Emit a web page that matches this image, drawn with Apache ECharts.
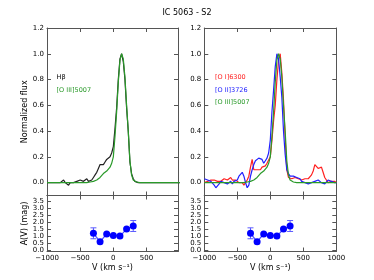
<!DOCTYPE html>
<html>
<head>
<meta charset="utf-8">
<script src="https://cdn.jsdelivr.net/npm/echarts@6/dist/echarts.min.js"></script>
<style>html,body{margin:0;padding:0;background:#fff;}#c{width:374px;height:280px;}</style>
</head>
<body>
<div id="c"></div>
<script>
// Velocity grid (km/s)
const V = [-1000,-975,-950,-925,-900,-875,-850,-825,-800,-775,-750,-725,-700,-675,-650,-625,-600,-575,-550,-525,
  -500,-475,-450,-425,-400,-375,-350,-325,-300,-275,-250,-225,-200,-175,-150,-125,-100,-75,-50,-25,
  0,25,50,75,100,125,150,175,200,225,250,275,300,325,350,375,400,425,450,475,
  500,525,550,575,600,625,650,675,700,725,750,775,800,825,850,875,900,925,950,975,1000];
// H beta (normalized)
const HB = [0.00,-0.01,0.00,0.01,0.00,-0.01,0.00,0.01,0.00,0.01,0.02,0.00,-0.01,-0.02,0.00,0.01,0.00,-0.01,0.01,0.00,
  0.02,0.03,0.01,0.01,0.03,0.01,0.01,0.02,0.04,0.06,0.08,0.11,0.14,0.15,0.14,0.16,0.18,0.17,0.20,0.23,
  0.28,0.42,0.58,0.80,0.96,1.00,0.94,0.80,0.58,0.40,0.16,0.07,0.03,0.01,0.00,0.00,-0.01,0.00,0.01,0.00,
  -0.01,0.00,0.01,0.00,-0.01,0.00,0.01,0.00,-0.01,0.00,0.01,0.00,0.01,0.00,-0.01,0.00,0.01,0.00,0.01,0.00,0.00];
// [O III]5007
const OIII = [0.00,0.00,0.00,0.00,0.00,0.00,0.00,0.00,0.00,0.00,0.00,0.00,0.00,0.00,0.00,0.00,0.00,0.00,0.00,0.00,
  0.00,0.00,0.00,0.00,0.00,0.005,0.005,0.01,0.01,0.015,0.02,0.03,0.04,0.055,0.07,0.085,0.09,0.10,0.12,0.15,
  0.20,0.36,0.55,0.78,0.95,1.00,0.96,0.82,0.60,0.40,0.17,0.06,0.02,0.01,0.005,0.00,0.00,0.00,0.00,0.00,
  0.00,0.00,0.00,0.00,0.00,0.00,0.00,0.00,0.00,0.00,0.00,0.00,0.00,0.00,0.00,0.00,0.00,0.00,0.00,0.00,0.00];
// [O II]3726
const OII = [0.03,0.03,0.02,0.02,0.01,0.00,-0.02,-0.04,-0.04,-0.01,0.01,0.01,0.00,0.01,-0.01,0.00,0.01,-0.01,0.01,0.00,
  0.02,0.05,0.04,0.08,0.05,0.00,-0.04,-0.02,0.05,0.10,0.14,0.17,0.16,0.19,0.20,0.18,0.15,0.17,0.19,0.23,
  0.33,0.55,0.72,0.90,1.00,0.96,0.82,0.66,0.40,0.22,0.10,0.07,0.05,0.06,0.05,0.04,0.04,0.05,0.03,0.01,
  0.00,0.00,-0.01,-0.01,-0.01,0.00,0.01,0.01,0.02,0.02,0.01,0.00,-0.01,-0.01,0.00,0.02,0.02,0.01,0.02,0.00,0.00];
// [O I]6300
const OI = [0.00,0.01,0.01,0.01,0.02,0.02,0.02,0.01,0.01,0.00,0.01,0.02,0.03,0.04,0.02,0.03,0.04,0.02,0.01,0.02,
  0.01,0.00,-0.01,0.00,-0.02,-0.01,0.02,0.05,0.12,0.18,0.10,0.09,0.10,0.11,0.10,0.12,0.13,0.13,0.15,0.16,
  0.20,0.33,0.48,0.60,0.80,0.95,1.00,0.85,0.64,0.35,0.10,0.04,0.03,0.03,0.04,0.04,0.04,0.03,0.02,0.02,
  0.02,0.03,0.03,0.03,0.04,0.06,0.09,0.14,0.15,0.11,0.10,0.12,0.08,0.04,0.02,0.00,0.00,0.01,0.02,0.01,0.00];
// Extinction A(V) per velocity bin
const AV_V = [-300,-200,-100,0,100,200,300];
const AV = [1.2,0.6,1.15,1.05,1.0,1.5,1.72];
const AV_ERR = [0.39,0,0,0,0,0,0.39];
// Tick values
const FLUX_TICKS = [0,0.2,0.4,0.6,0.8,1.0,1.2];
const AV_TICKS = [0,0.5,1.0,1.5,2.0,2.5,3.0,3.5];
const V_TICKS = [-1000,-500,0,500,1000];

const FRAME = '#555';
const FONT = 'DejaVu Sans';
const C_HB = '#222', C_OIII = '#2a9a2a', C_OII = '#2020ff', C_OI = '#ff2020';

const grids = [
  {left:47, top:28, width:131, height:167.5},
  {left:47, top:195.5, width:131, height:56},
  {left:204.3, top:28, width:132, height:167.5},
  {left:204.3, top:195.5, width:132, height:56}
];
const xMax = [975, 975, 1000, 1000];
const isBottom = [false, true, false, true];

const xAxis = [], yAxis = [];
const fmtV = v => (v < 0 ? '\u2212' + Math.abs(v) : String(v));
grids.forEach((g, i) => {
  const ticks = V_TICKS.filter(t => t <= xMax[i]);
  ['bottom','top'].forEach(pos => {
    const lab = pos === 'bottom' && isBottom[i];
    xAxis.push({
      type:'value', gridIndex:i, min:-1000, max:xMax[i], position:pos,
      axisLine:{show:true, onZero:false, lineStyle:{color:FRAME, width:1}},
      axisTick:{show:true, inside:true, length:4, customValues:ticks, lineStyle:{color:FRAME}},
      axisLabel:{show:lab, customValues:ticks, formatter:fmtV, fontSize:7, color:'#000', margin:3, fontFamily:FONT},
      splitLine:{show:false},
      name: lab && pos==='bottom' ? 'V (km s\u207B\u00B9)' : '',
      nameLocation:'middle', nameGap:12,
      nameTextStyle:{fontSize:8, color:'#000', fontFamily:FONT}
    });
  });
  const yt = isBottom[i] ? AV_TICKS : FLUX_TICKS;
  const ymin = -0.1, ymax = isBottom[i] ? 3.9 : 1.2;
  ['left','right'].forEach(pos => {
    const lab = pos === 'left';
    let nm = '';
    if (lab && i === 0) nm = 'Normalized flux';
    if (lab && i === 1) nm = 'A(V) (mag)';
    yAxis.push({
      type:'value', gridIndex:i, min:ymin, max:ymax, position:pos,
      axisLine:{show:true, onZero:false, lineStyle:{color:FRAME, width:1}},
      axisTick:{show:true, inside:true, length:4, customValues:yt, lineStyle:{color:FRAME}},
      axisLabel:{show:lab, customValues:yt, formatter:v => v.toFixed(1), fontSize:7, color:'#000', margin:3, fontFamily:FONT},
      splitLine:{show:false},
      name:nm, nameLocation:'middle', nameGap:18,
      nameTextStyle:{fontSize:8, color:'#000', fontFamily:FONT}
    });
  });
});

const pairs = arr => V.map((v, i) => [v, arr[i]]);
function specLine(arr, color, gi) {
  return {type:'line', xAxisIndex:gi*2, yAxisIndex:gi*2, data:pairs(arr), showSymbol:false,
    lineStyle:{color:color, width:1.2}, itemStyle:{color:color}, animation:false, clip:true, silent:true};
}
function avSeries(gi) {
  return [
    {type:'custom', xAxisIndex:gi*2, yAxisIndex:gi*2, silent:true, animation:false,
      data: AV_V.map((v, i) => [v, AV[i], AV_ERR[i]]).filter(d => d[2] > 0),
      renderItem: (params, api) => {
        const x = api.value(0), y = api.value(1), e = api.value(2);
        const t = api.coord([x, y + e]), b = api.coord([x, y - e]);
        const w = 3, st = {stroke:'#5a5aff', lineWidth:1};
        return {type:'group', children:[
          {type:'line', shape:{x1:t[0], y1:t[1], x2:b[0], y2:b[1]}, style:st},
          {type:'line', shape:{x1:t[0]-w, y1:t[1], x2:t[0]+w, y2:t[1]}, style:st},
          {type:'line', shape:{x1:b[0]-w, y1:b[1], x2:b[0]+w, y2:b[1]}, style:st}
        ]};
      }},
    {type:'line', xAxisIndex:gi*2, yAxisIndex:gi*2, data:AV_V.map((v, i) => [v, AV[i]]),
      symbol:'circle', symbolSize:7, showSymbol:true, silent:true, animation:false,
      lineStyle:{color:'#5050ff', width:1.2}, itemStyle:{color:'#0000ff'}}
  ];
}

const series = [
  specLine(HB, C_HB, 0), specLine(OIII, C_OIII, 0),
  specLine(OI, C_OI, 2), specLine(OII, C_OII, 2), specLine(OIII, C_OIII, 2),
  ...avSeries(1), ...avSeries(3)
];

const txt = (x, y, s, c) => ({type:'text', left:x, top:y, silent:true,
  style:{text:s, fill:c, font:'6.5px "DejaVu Sans"'}});

const chart = echarts.init(document.getElementById('c'), null, {renderer:'canvas'});
chart.setOption({
  animation:false,
  backgroundColor:'#fff',
  title:{text:'IC 5063 - S2', left:'center', top:4, textStyle:{fontSize:8, fontWeight:'normal', color:'#000', fontFamily:FONT}},
  grid:grids,
  xAxis:xAxis,
  yAxis:yAxis,
  series:series,
  graphic:[
    txt(56.5, 73.5, 'H\u03B2', '#000'),
    txt(56.5, 86.5, '[O III]5007', C_OIII),
    txt(215, 73.5, '[O I]6300', C_OI),
    txt(215, 86.5, '[O II]3726', C_OII),
    txt(215, 99, '[O III]5007', C_OIII)
  ]
});
</script>
</body>
</html>
